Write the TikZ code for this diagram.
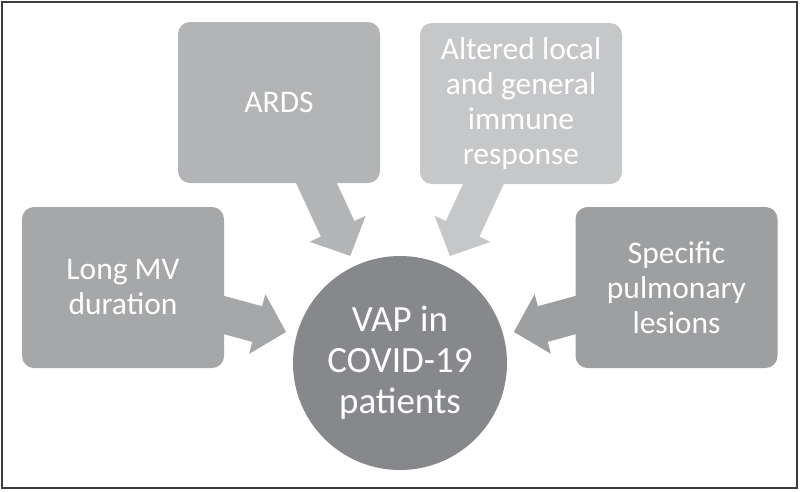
\documentclass[tikz,border=0pt]{standalone}
\usepackage{fontspec}
\setmainfont{Carlito}
\usetikzlibrary{calc,arrows.meta,backgrounds}
\definecolor{cArds}{RGB}{179,180,182}
\definecolor{cAlt}{RGB}{198,199,201}
\definecolor{cLong}{RGB}{166,167,169}
\definecolor{cSpec}{RGB}{158,159,161}
\definecolor{cVap}{RGB}{135,136,139}
\definecolor{cFrame}{RGB}{60,60,60}
\begin{document}
\begin{tikzpicture}[x=1pt,y=-1pt,
  box/.style={rounded corners=12pt, minimum width=202pt, minimum height=161pt,
    text=white, align=center, font=\fontsize{31.5}{35}\selectfont, inner sep=0pt},
  blockarrow/.style={line width=37pt, -{Triangle[width=60pt,length=30pt]}}]
\useasboundingbox (0,0) rectangle (800,491);
\draw[line width=1.8pt, draw=cFrame] (2,2) rectangle (797,488);
\node[box, fill=cArds] (ards) at (279,102.5) {ARDS};
\node[box, fill=cAlt] (alt) at (521,103.5) {Altered local\\and general\\immune\\response};
\node[box, fill=cLong] (long) at (123,287.5) {Long MV\\duration};
\node[box, fill=cSpec] (spec) at (676.5,287.5) {Specific\\pulmonary\\lesions};
\node[circle, fill=cVap, minimum size=214pt, inner sep=0pt, text=white, align=center,
  font=\fontsize{37}{41}\selectfont] (vap) at (400,363) {VAP in\\COVID-19\\patients};
\begin{scope}[on background layer]
\draw[blockarrow, draw=cArds] (ards.center) -- ($(vap.center)!118pt!(ards.center)$);
\draw[blockarrow, draw=cAlt] (alt.center) -- ($(vap.center)!118pt!(alt.center)$);
\draw[blockarrow, draw=cLong] (long.center) -- ($(vap.center)!118pt!(long.center)$);
\draw[blockarrow, draw=cSpec] (spec.center) -- ($(vap.center)!118pt!(spec.center)$);
\end{scope}
\end{tikzpicture}
\end{document}
